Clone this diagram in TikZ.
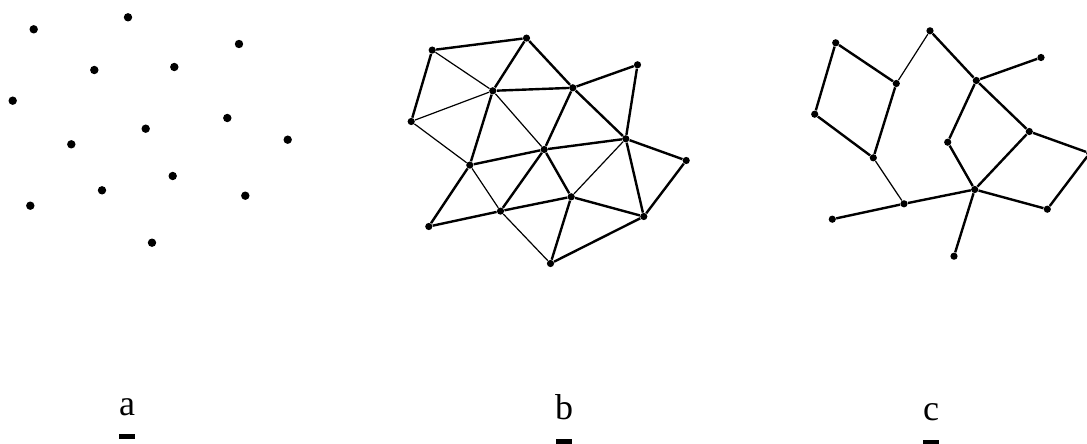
\documentclass[tikz,border=0pt]{standalone}
\usepackage{fontspec}
\setmainfont{Liberation Serif}
\usetikzlibrary{positioning}

\begin{document}
\begin{tikzpicture}[
  x=0.5pt, y=-0.5pt,
  site/.style  = {circle, fill, inner sep=0pt, minimum size=4.2pt},
  dot/.style   = {circle, fill, inner sep=0pt, minimum size=3.6pt},
  edge/.style  = {line width=1.2pt},
  faint/.style = {line width=0.6pt},
  tag/.style   = {font=\fontsize{18}{21}\selectfont, inner sep=0pt, anchor=base},
  uline/.style = {fill, inner sep=0pt, minimum width=8pt, minimum height=2.5pt}
]
  \useasboundingbox (0,0) rectangle (1087,444);

  % the same sites in all three panels
  \foreach \p/\x/\y in {1/33.7/29.3, 2/128/17.3, 3/239/44, 4/94.3/70, 5/174.3/67,
                        6/12.7/100.7, 7/227.3/118, 8/145.7/128.7, 9/287.7/139.7,
                        10/71.3/144.3, 11/172.7/176, 12/102/190.3, 13/245.3/195.7,
                        14/30.3/205.7, 15/152/242.7} {
    \node[site] (a\p) at (\x,\y) {};
    \node[dot]  (b\p) at (\x+398.5,\y+20.8) {};
    \node[dot]  (c\p) at (\x+802,\y+13.5) {};
  }

  % b: triangulation
  \foreach \i/\j in {1/2,1/6,2/4,2/5,4/5,4/10,5/3,5/8,5/7,3/7,10/8,8/7,7/9,7/13,
                     9/13,8/11,8/12,10/14,14/12,12/11,11/15,11/13,13/15}
    \draw[edge] (b\i) -- (b\j);
  \foreach \i/\j in {1/4,4/6,4/8,6/10,7/11,10/12,12/15}
    \draw[faint] (b\i) -- (b\j);

  % c: subgraph
  \foreach \i/\j in {1/4,1/6,2/5,5/3,4/10,6/10,12/14,12/11,5/8,5/7,8/11,7/11,
                     7/9,9/13,11/13,11/15}
    \draw[edge] (c\i) -- (c\j);
  \foreach \i/\j in {2/4,10/12}
    \draw[faint] (c\i) -- (c\j);

  % panel letters
  \node[tag] (la) at (127,415) {a};
  \node[uline, below=9pt of la] (la-bar) {};
  \node[tag] (lb) at (564,419) {b};
  \node[uline, below=9.5pt of lb] (lb-bar) {};
  \node[tag] (lc) at (931,420) {c};
  \node[uline, below=9.5pt of lc] (lc-bar) {};
\end{tikzpicture}
\end{document}
